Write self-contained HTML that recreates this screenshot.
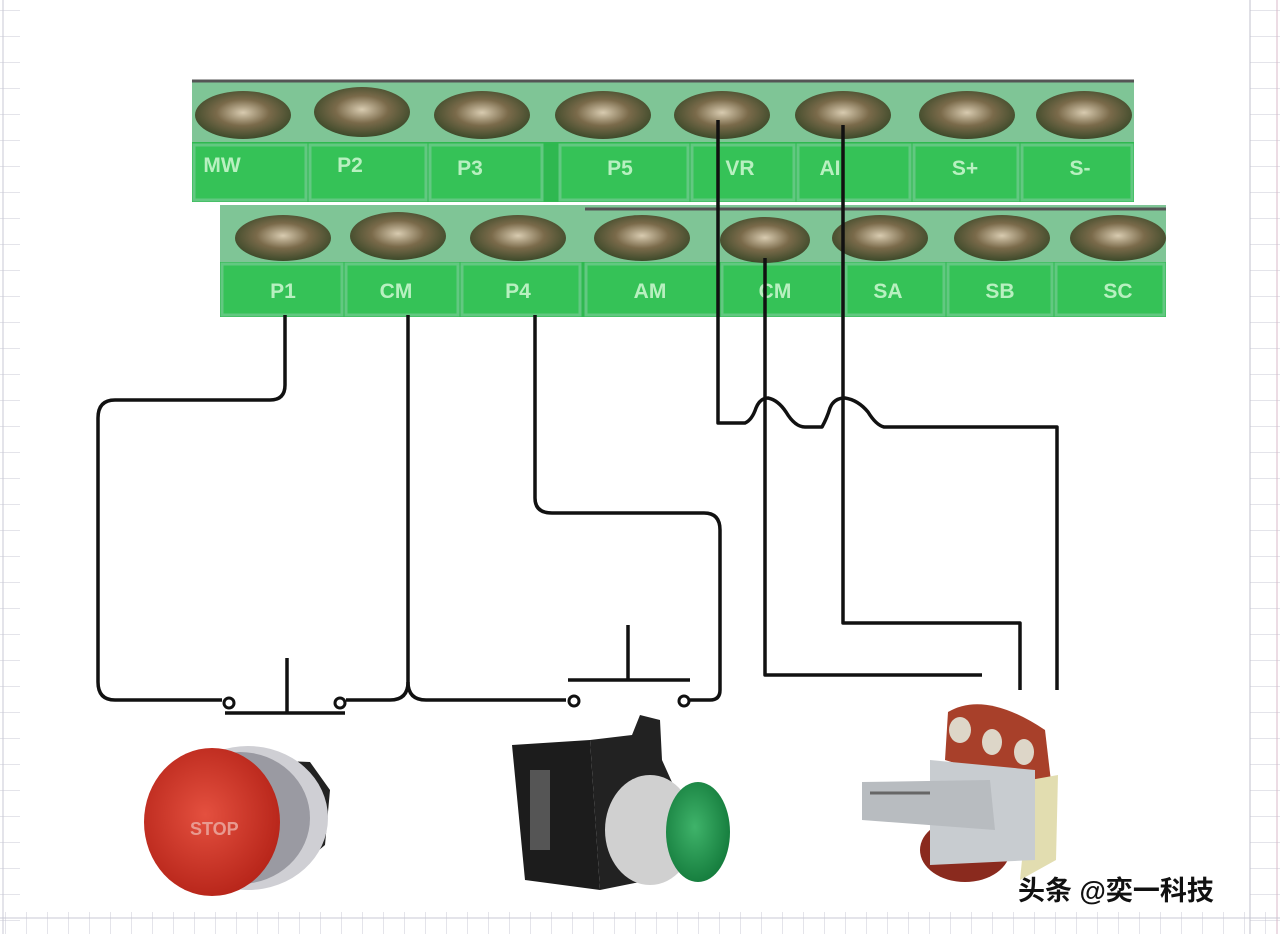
<!DOCTYPE html>
<html><head><meta charset="utf-8"><style>
html,body{margin:0;padding:0;background:#fff}
svg{display:block}
</style></head><body>
<svg width="1280" height="934" viewBox="0 0 1280 934" xmlns="http://www.w3.org/2000/svg">
<defs>
<pattern id="rh" width="26" height="26" patternUnits="userSpaceOnUse" y="10"><line x1="0" y1="0" x2="30" y2="0" stroke="#c8c8d4" stroke-width="1"/></pattern>
<pattern id="rv" width="21" height="30" patternUnits="userSpaceOnUse" x="5"><line x1="0" y1="0" x2="0" y2="30" stroke="#c8c8d4" stroke-width="1"/></pattern>
<radialGradient id="scr" cx="50%" cy="45%" r="55%"><stop offset="0" stop-color="#d8cbb0"/><stop offset="0.5" stop-color="#7a6a4a"/><stop offset="1" stop-color="#3d4a2a"/></radialGradient>
<radialGradient id="red" cx="45%" cy="45%" r="60%"><stop offset="0" stop-color="#e4503f"/><stop offset="1" stop-color="#b52318"/></radialGradient>
<radialGradient id="grn" cx="45%" cy="45%" r="60%"><stop offset="0" stop-color="#3fb36a"/><stop offset="1" stop-color="#137a3b"/></radialGradient>
</defs>
<rect width="1280" height="934" fill="#fff"/>
<!-- rulers -->
<rect x="1250" y="0" width="30" height="934" fill="url(#rh)"/>
<line x1="1250" y1="0" x2="1250" y2="934" stroke="#c0c0cc"/>
<line x1="1277" y1="0" x2="1277" y2="934" stroke="#d8b8c8"/>
<rect x="0" y="0" width="20" height="934" fill="url(#rh)"/>
<line x1="3" y1="0" x2="3" y2="934" stroke="#c8c8d4"/>
<rect x="0" y="912" width="1280" height="22" fill="url(#rv)"/>
<line x1="0" y1="918" x2="1280" y2="918" stroke="#c8c8d4"/>

<!-- top terminal block -->
<g>
<rect x="192" y="80" width="942" height="122" fill="#7fc596"/>
<line x1="192" y1="81" x2="1134" y2="81" stroke="#555" stroke-width="3"/>
<rect x="192" y="142" width="942" height="60" fill="#2fb850"/>
<g fill="#35c257" stroke="#62c881" stroke-width="3">
<rect x="194" y="145" width="112" height="55"/><rect x="310" y="145" width="116" height="55"/><rect x="430" y="145" width="112" height="55"/>
<rect x="560" y="145" width="128" height="55"/><rect x="692" y="145" width="102" height="55"/><rect x="798" y="145" width="112" height="55"/>
<rect x="914" y="145" width="104" height="55"/><rect x="1022" y="145" width="110" height="55"/>
</g>
<g fill="url(#scr)">
<ellipse cx="243" cy="115" rx="48" ry="24"/><ellipse cx="362" cy="112" rx="48" ry="25"/><ellipse cx="482" cy="115" rx="48" ry="24"/>
<ellipse cx="603" cy="115" rx="48" ry="24"/><ellipse cx="722" cy="115" rx="48" ry="24"/><ellipse cx="843" cy="115" rx="48" ry="24"/>
<ellipse cx="967" cy="115" rx="48" ry="24"/><ellipse cx="1084" cy="115" rx="48" ry="24"/>
</g>
<g font-family="Liberation Sans, sans-serif" font-weight="bold" font-size="21" fill="#b8f0c0" text-anchor="middle">
<text x="222" y="172">MW</text><text x="350" y="172">P2</text><text x="470" y="175">P3</text>
<text x="620" y="175">P5</text><text x="740" y="175">VR</text><text x="830" y="175">AI</text>
<text x="965" y="175">S+</text><text x="1080" y="175">S-</text>
</g>
</g>
<!-- bottom terminal block -->
<g>
<rect x="220" y="205" width="946" height="112" fill="#7fc596"/>
<line x1="585" y1="209" x2="1166" y2="209" stroke="#555" stroke-width="3"/>
<rect x="220" y="262" width="946" height="55" fill="#2fb850"/>
<g fill="#35c257" stroke="#62c881" stroke-width="3">
<rect x="222" y="264" width="120" height="51"/><rect x="346" y="264" width="112" height="51"/><rect x="462" y="264" width="118" height="51"/>
<rect x="586" y="264" width="132" height="51"/><rect x="722" y="264" width="120" height="51"/><rect x="846" y="264" width="98" height="51"/>
<rect x="948" y="264" width="104" height="51"/><rect x="1056" y="264" width="108" height="51"/>
</g>
<g fill="url(#scr)">
<ellipse cx="283" cy="238" rx="48" ry="23"/><ellipse cx="398" cy="236" rx="48" ry="24"/><ellipse cx="518" cy="238" rx="48" ry="23"/>
<ellipse cx="642" cy="238" rx="48" ry="23"/><ellipse cx="765" cy="240" rx="45" ry="23"/><ellipse cx="880" cy="238" rx="48" ry="23"/>
<ellipse cx="1002" cy="238" rx="48" ry="23"/><ellipse cx="1118" cy="238" rx="48" ry="23"/>
</g>
<g font-family="Liberation Sans, sans-serif" font-weight="bold" font-size="21" fill="#b8f0c0" text-anchor="middle">
<text x="283" y="298">P1</text><text x="396" y="298">CM</text><text x="518" y="298">P4</text>
<text x="650" y="298">AM</text><text x="775" y="298">CM</text><text x="888" y="298">SA</text>
<text x="1000" y="298">SB</text><text x="1118" y="298">SC</text>
</g>
</g>

<!-- wires -->
<g fill="none" stroke="#111" stroke-width="3.5" stroke-linejoin="round">
<path d="M285 315 V385 Q285 400 270 400 H115 Q98 400 98 418 V682 Q98 700 115 700 H222"/>
<path d="M408 315 V682 Q408 700 390 700 H346"/>
<path d="M408 682 Q408 700 426 700 H566"/>
<path d="M535 315 V498 Q535 513 552 513 H704 Q720 513 720 530 V690 Q720 700 710 700 H690"/>
<path d="M718 120 V423 H745 Q752 420 756 408 Q760 398 768 398 Q778 400 786 412 Q795 427 805 427 H822 Q827 418 830 408 Q834 398 845 398 Q858 400 868 412 Q876 425 884 427 H1057 V690"/>
<path d="M765 258 V675 H982"/>
<path d="M843 125 V623 H1020 V690"/>
<path d="M225 713 H345"/>
<path d="M287 658 V713"/>
<path d="M568 680 H690"/>
<path d="M628 625 V680"/>
</g>
<g fill="#fff" stroke="#111" stroke-width="3">
<circle cx="229" cy="703" r="5"/><circle cx="340" cy="703" r="5"/>
<circle cx="574" cy="701" r="5"/><circle cx="684" cy="701" r="5"/>
</g>

<!-- red stop button -->
<g>
<path d="M260 760 L310 762 L330 790 L325 845 L290 875 L255 880 Z" fill="#222"/>
<ellipse cx="248" cy="818" rx="80" ry="72" fill="#cfcfd4"/>
<ellipse cx="240" cy="818" rx="70" ry="66" fill="#9a9aa2"/>
<ellipse cx="212" cy="822" rx="68" ry="74" fill="url(#red)"/>
<text x="190" y="835" font-family="Liberation Sans, sans-serif" font-weight="bold" font-size="18" fill="#e89a90">STOP</text>
</g>
<!-- green start button -->
<g>
<path d="M512 745 L590 740 L600 890 L525 880 Z" fill="#1c1c1c"/>
<rect x="530" y="770" width="20" height="80" fill="#555"/>
<path d="M590 740 L632 735 L640 715 L660 720 L662 760 L680 800 L650 880 L600 890 Z" fill="#222"/>
<ellipse cx="650" cy="830" rx="45" ry="55" fill="#d0d0d0"/>
<ellipse cx="698" cy="832" rx="32" ry="50" fill="url(#grn)"/>
</g>
<!-- potentiometer -->
<g>
<path d="M948 712 Q985 690 1045 730 L1052 790 L1010 780 L945 760 Z" fill="#a8402a"/>
<ellipse cx="960" cy="730" rx="11" ry="13" fill="#ddd6c8"/>
<ellipse cx="992" cy="742" rx="10" ry="13" fill="#ddd6c8"/>
<ellipse cx="1024" cy="752" rx="10" ry="13" fill="#ddd6c8"/>
<path d="M1030 780 L1058 775 L1056 860 L1020 880 Z" fill="#e2ddb0"/>
<ellipse cx="965" cy="850" rx="45" ry="32" fill="#8a2a1e"/>
<path d="M930 760 L1035 770 L1035 860 L930 865 Z" fill="#c8ccd0"/>
<path d="M862 782 L990 780 L995 830 L862 820 Z" fill="#b8bcc0"/>
<path d="M870 793 L930 793" stroke="#666" stroke-width="3"/>
</g>
<text x="1018" y="900" font-family="Liberation Sans, 'Noto Sans CJK SC', sans-serif" font-size="27" font-weight="bold" fill="#111">头条 @奕一科技</text>
</svg>
</body></html>
